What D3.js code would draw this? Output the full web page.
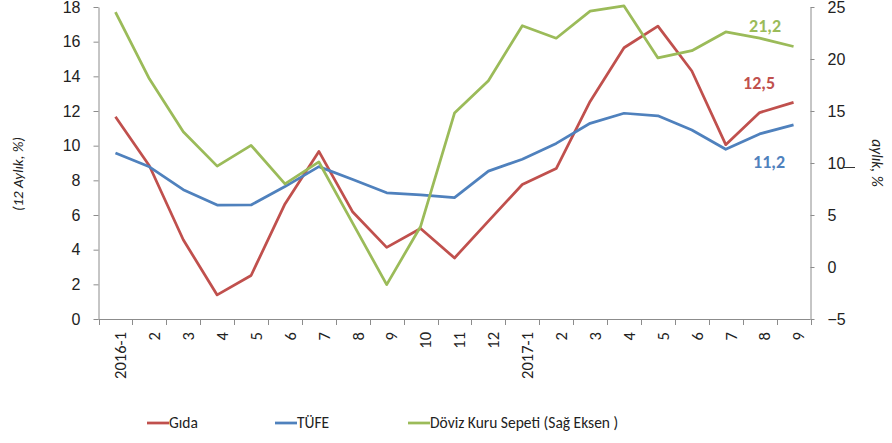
<!DOCTYPE html>
<html>
<head>
<meta charset="utf-8">
<script src="https://cdn.jsdelivr.net/npm/d3@7"></script>
<style>
  body { margin: 0; background: #fff; }
  svg { display: block; font-family: Carlito, Lato, "Open Sans", sans-serif; }
</style>
</head>
<body>
<svg id="chart" width="892" height="443"></svg>
<script>
// months, 2016-1 .. 2017-9
const months = ['2016-1', '2', '3', '4', '5', '6', '7', '8', '9', '10', '11', '12',
    '2017-1', '2', '3', '4', '5', '6', '7', '8', '9']
const gida = [11.67, 8.84, 4.57, 1.39, 2.51, 6.64, 9.67, 6.17, 4.13, 5.22, 3.52, 5.65,
    7.76, 8.68, 12.55, 15.65, 16.90, 14.31, 10.06, 11.91, 12.5]
const tufe = [9.58, 8.78, 7.46, 6.57, 6.58, 7.64, 8.79, 8.05, 7.28, 7.16, 7.00, 8.53,
    9.22, 10.13, 11.29, 11.87, 11.72, 10.90, 9.79, 10.68, 11.2]
// right axis
const doviz = [24.5, 18.1, 13.0, 9.7, 11.7, 8.0, 10.1, 4.2, -1.7, 3.9, 14.8, 17.9,
    23.2, 22.0, 24.6, 25.1, 20.1, 20.8, 22.6, 22.0, 21.2]
const leftTicks = [0, 2, 4, 6, 8, 10, 12, 14, 16, 18]
const rightTicks = [-5, 0, 5, 10, 15, 20, 25]

const series = [
    { name: 'Gıda', values: gida, color: '#C0504D', axis: 'left', label: '12,5' },
    { name: 'TÜFE', values: tufe, color: '#4F81BD', axis: 'left', label: '11,2' },
    { name: 'Döviz Kuru Sepeti (Sağ Eksen )', values: doviz, color: '#9BBB59', axis: 'right', label: '21,2' }
]

const svg = d3.select('#chart')
const plotL = 98.5, plotR = 810.5, plotT = 7, plotB = 319
const axisColor = '#8c8c8c'

const x = d3.scaleBand().domain(d3.range(months.length)).range([plotL, plotR])
const yL = d3.scaleLinear().domain([0, 18]).range([plotB, plotT])
const yR = d3.scaleLinear().domain([-5, 25]).range([plotB, plotT])

// left axis
const gL = svg.append('g')
    .attr('transform', `translate(${plotL},0)`)
    .call(d3.axisLeft(yL).tickValues(leftTicks).tickSize(5).tickPadding(13).tickSizeOuter(0))
gL.select('.domain').attr('stroke', axisColor)
gL.selectAll('.tick line').attr('stroke', axisColor)
gL.selectAll('.tick text').attr('font-size', 16).attr('fill', '#222').attr('font-family', null)

// right axis
const gR = svg.append('g')
    .attr('transform', `translate(${plotR},0)`)
    .call(d3.axisRight(yR).tickValues(rightTicks).tickSize(4).tickPadding(13).tickSizeOuter(0))
gR.select('.domain').attr('stroke', axisColor)
gR.selectAll('.tick line').attr('stroke', axisColor)
gR.selectAll('.tick text').attr('font-size', 16).attr('fill', '#222').attr('font-family', null)

// x axis baseline + ticks between categories
svg.append('line')
    .attr('x1', plotL).attr('x2', plotR)
    .attr('y1', plotB + 0.5).attr('y2', plotB + 0.5)
    .attr('stroke', axisColor)
svg.append('g')
    .selectAll('line')
    .data(d3.range(months.length + 1))
    .join('line')
    .attr('x1', i => Math.round(plotL + i * x.step()) + 0.5)
    .attr('x2', i => Math.round(plotL + i * x.step()) + 0.5)
    .attr('y1', plotB)
    .attr('y2', plotB + 6)
    .attr('stroke', axisColor)

svg.append('g')
    .selectAll('text')
    .data(months)
    .join('text')
    .attr('transform', (d, i) => `translate(${x(i) + x.bandwidth() / 2 + 5},332) rotate(-90)`)
    .attr('text-anchor', 'end')
    .attr('dy', '0.35em')
    .attr('font-size', 16.5)
    .attr('fill', '#222')
    .text(d => d)

// axis titles
svg.append('text')
    .attr('transform', 'translate(18,174) rotate(-90)')
    .attr('text-anchor', 'middle')
    .attr('dy', '0.35em')
    .attr('font-size', 15)
    .attr('font-style', 'italic')
    .attr('fill', '#222')
    .text('(12 Aylık, %)')
svg.append('text')
    .attr('transform', 'translate(877,163) rotate(90)')
    .attr('text-anchor', 'middle')
    .attr('dy', '0.35em')
    .attr('font-size', 15.5)
    .attr('font-style', 'italic')
    .attr('fill', '#222')
    .text('aylık, %')
// stray dash next to the "10" tick in the original
svg.append('line')
    .attr('x1', 843).attr('x2', 855)
    .attr('y1', 167.5).attr('y2', 167.5)
    .attr('stroke', '#333')

// lines
const line = s => d3.line()
    .x((d, i) => x(i) + x.bandwidth() / 2)
    .y(d => (s.axis === 'left' ? yL : yR)(d))

svg.append('g')
    .selectAll('path')
    .data(series)
    .join('path')
    .attr('d', s => line(s)(s.values))
    .attr('fill', 'none')
    .attr('stroke', s => s.color)
    .attr('stroke-width', 2.75)
    .attr('stroke-linejoin', 'round')

// end value labels
const endLabels = [
    { s: series[2], dx: -28.5, dy: -14.5 },
    { s: series[0], dx: -34.5, dy: -13 },
    { s: series[1], dx: -24.5, dy: 43 }
]
svg.append('g')
    .selectAll('text')
    .data(endLabels)
    .join('text')
    .attr('x', d => x(months.length - 1) + x.bandwidth() / 2 + d.dx)
    .attr('y', d => (d.s.axis === 'left' ? yL : yR)(d.s.values[d.s.values.length - 1]) + d.dy)
    .attr('text-anchor', 'middle')
    .attr('font-size', 18)
    .attr('font-weight', 'bold')
    .attr('fill', d => d.s.color)
    .text(d => d.s.label)

// legend
const legendX = [147, 275, 408]
const lg = svg.append('g')
    .selectAll('g')
    .data(series)
    .join('g')
    .attr('transform', (d, i) => `translate(${legendX[i]},423)`)
lg.append('line')
    .attr('x1', 0).attr('x2', 22)
    .attr('stroke', d => d.color)
    .attr('stroke-width', 2.75)
lg.append('text')
    .attr('x', 22)
    .attr('dy', '0.35em')
    .attr('font-size', 15.5)
    .attr('fill', '#222')
    .text(d => d.name)
</script>
</body>
</html>
